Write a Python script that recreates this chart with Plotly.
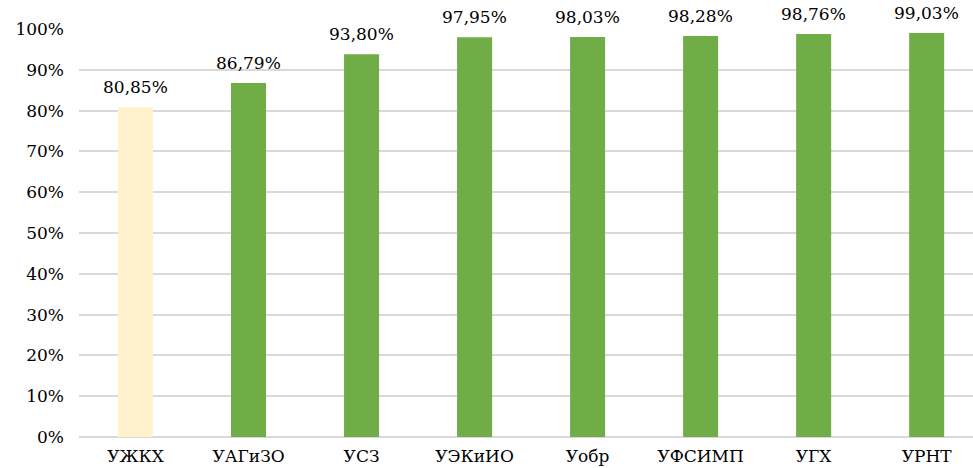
import plotly.graph_objects as go

categories = ["УЖКХ", "УАГиЗО", "УСЗ", "УЭКиИО", "Уобр", "УФСИМП", "УГХ", "УРНТ"]
values = [80.85, 86.79, 93.80, 97.95, 98.03, 98.28, 98.76, 99.03]
colors = ["#FFF2CC"] + ["#70AD47"] * 7
y_ticks = list(range(0, 101, 10))

FONT = "DejaVu Serif"

fig = go.Figure(go.Bar(
    x=categories,
    y=values,
    marker=dict(color=colors, line=dict(width=0)),
    width=0.31,
    cliponaxis=False,
))

for c, v in zip(categories, values):
    fig.add_annotation(
        x=c, y=v, xref="x", yref="y",
        text=f"{v:.2f}%".replace(".", ","),
        showarrow=False, yanchor="bottom", yshift=8,
        font=dict(family=FONT, size=17, color="#000000"),
    )

fig.update_layout(
    width=973, height=468,
    margin=dict(l=79, r=0, t=29, b=31),
    paper_bgcolor="white", plot_bgcolor="white",
    showlegend=False,
    font=dict(family=FONT, size=17, color="#000000"),
)
fig.update_xaxes(
    range=[-0.5, 7.41],
    showgrid=False, showline=False, ticks="",
    ticklabelstandoff=7,
    automargin=False,
    tickfont=dict(family=FONT, size=17, color="#000000"),
)
fig.update_yaxes(
    range=[0, 100],
    tickvals=y_ticks,
    ticktext=[f"{v}%" for v in y_ticks],
    showgrid=True, gridcolor="#D9D9D9", gridwidth=1.5,
    zeroline=True, zerolinecolor="#D9D9D9", zerolinewidth=1.5,
    showline=False, ticks="",
    ticklabelstandoff=14,
    automargin=False,
    tickfont=dict(family=FONT, size=17, color="#000000"),
)

fig.write_html("out.html")
